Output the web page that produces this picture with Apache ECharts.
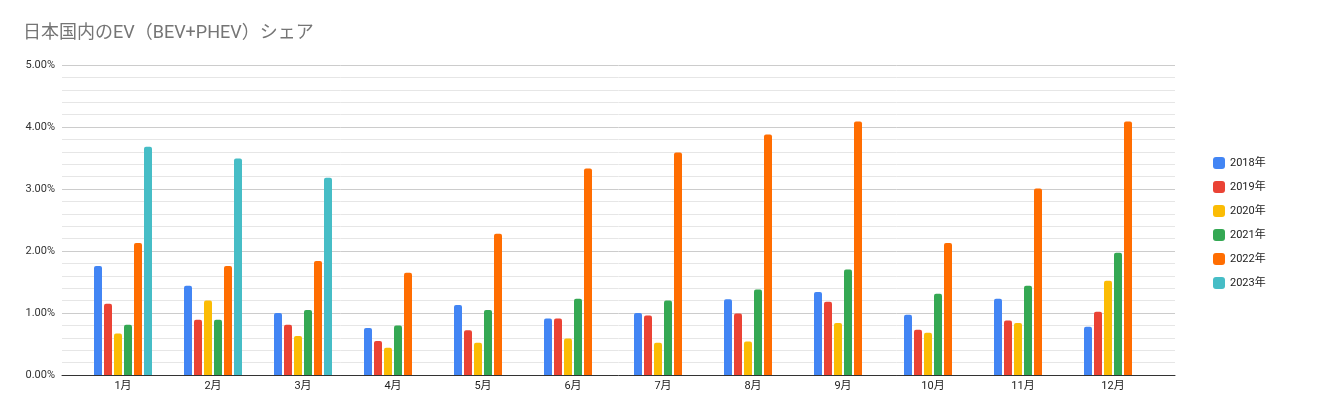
<!DOCTYPE html>
<html>
<head>
<meta charset="utf-8">
<script src="https://cdn.jsdelivr.net/npm/echarts@6/dist/echarts.min.js"></script>
<style>
html,body{margin:0;padding:0;background:#fff;}
#chart{width:1324px;height:416px;}
</style>
</head>
<body>
<div id="chart"></div>
<script>
const months = ['1月','2月','3月','4月','5月','6月','7月','8月','9月','10月','11月','12月'];
const seriesNames = ['2018年','2019年','2020年','2021年','2022年','2023年'];
const yTickLabels = ['0.00%','1.00%','2.00%','3.00%','4.00%','5.00%'];
const s2018 = [1.76,1.44,1.00,0.76,1.13,0.91,1.00,1.22,1.34,0.97,1.23,0.78];
const s2019 = [1.15,0.89,0.81,0.55,0.72,0.91,0.96,0.99,1.18,0.73,0.88,1.02];
const s2020 = [0.67,1.20,0.63,0.44,0.52,0.59,0.52,0.54,0.84,0.68,0.84,1.52];
const s2021 = [0.81,0.89,1.05,0.80,1.05,1.23,1.20,1.38,1.70,1.31,1.44,1.97];
const s2022 = [2.13,1.76,1.84,1.65,2.28,3.33,3.59,3.88,4.09,2.13,3.01,4.09];
const s2023 = [3.68,3.49,3.18,null,null,null,null,null,null,null,null,null];
const colors = ['#4285F4','#EA4335','#FBBC04','#34A853','#FF6D01','#46BDC6'];

const allData = [s2018,s2019,s2020,s2021,s2022,s2023];
const font = 'Roboto, "Noto Sans CJK JP", sans-serif';

const chart = echarts.init(document.getElementById('chart'));
chart.setOption({
  animation:false,
  textStyle:{fontFamily:font},
  title:{
    text:'日本国内のEV（BEV+PHEV）シェア',
    left:18, top:20,
    textStyle:{fontSize:18, fontWeight:'normal', color:'#757575', fontFamily:font}
  },
  legend:{
    orient:'vertical',
    left:1208, top:152,
    itemWidth:12, itemHeight:12, itemGap:12,
    icon:'roundRect',
    textStyle:{fontSize:11, color:'#222', fontFamily:font},
    data:seriesNames
  },
  grid:[
    {left:62, right:149, top:65, bottom:41},
    {left:78, right:166, top:65, bottom:41}
  ],
  xAxis:[
    {type:'value', gridIndex:0, min:0, max:1,
     axisLine:{show:true, onZero:false, lineStyle:{color:'#333', width:1}},
     axisTick:{show:false}, axisLabel:{show:false}, splitLine:{show:false}},
    {type:'category', gridIndex:1, data:months,
     axisLine:{show:false}, axisTick:{show:false},
     axisLabel:{fontSize:11, color:'#222', margin:6, fontFamily:font}}
  ],
  yAxis:[
    {type:'value', gridIndex:0, min:0, max:5, interval:1,
     axisLine:{show:false}, axisTick:{show:false},
     axisLabel:{fontSize:11, color:'#333', margin:7, fontFamily:font,
       formatter:function(v){return yTickLabels[Math.round(v)];}},
     splitLine:{show:true, lineStyle:{color:'#cccccc', width:1}},
     minorTick:{show:false, splitNumber:5},
     minorSplitLine:{show:true, lineStyle:{color:'#e6e6e6', width:1}}},
    {type:'value', gridIndex:1, min:0, max:5, interval:1, show:false}
  ],
  series: seriesNames.map(function(n,i){
    return {
      name:n, type:'bar', xAxisIndex:1, yAxisIndex:1,
      data:allData[i], barWidth:8, barGap:'25%',
      itemStyle:{color:colors[i], borderRadius:[2,2,0,0]}
    };
  })
});
</script>
</body>
</html>
